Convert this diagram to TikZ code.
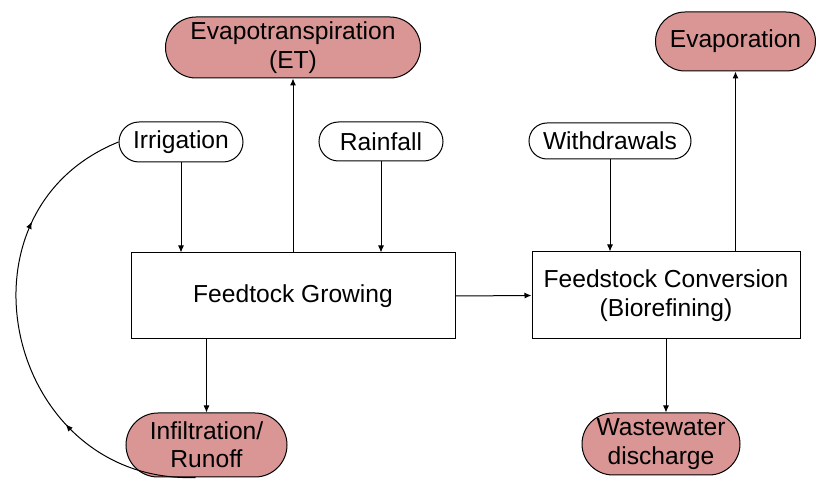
\documentclass[tikz,border=0pt]{standalone}
\usepackage{fontspec}
\setmainfont{Liberation Sans}
\usetikzlibrary{arrows.meta,shapes.misc,decorations.markings}
\definecolor{lossred}{HTML}{D99694}

\begin{document}
\begin{tikzpicture}[x=0.5pt, y=0.5pt,
  every node/.style={font=\fontsize{12.3}{14.2}\selectfont, align=center, inner sep=0pt},
  source/.style={draw, rounded rectangle, fill=white, line width=0.5pt},
  loss/.style={draw, rounded rectangle, fill=lossred, line width=0.5pt},
  stage/.style={draw, rectangle, line width=0.5pt},
  arrow/.style={-{Latex[length=3.5pt,width=3pt]}, line width=0.5pt}
]
\useasboundingbox (0,0) rectangle (816,-481);

% Water inputs
\node[source, minimum width=62pt, minimum height=20pt] (irr) at (181,-142) {Irrigation};
\node[source, minimum width=62pt, minimum height=19.5pt] (rain) at (381,-141.5) {Rainfall};
\node[source, minimum width=81pt, minimum height=18pt] (wd) at (610,-141) {Withdrawals};

% Process stages
\node[stage, minimum width=162pt, minimum height=43pt] (grow) at (293,-296) {Feedtock Growing};
\node[stage, minimum width=134pt, minimum height=43.5pt] (conv) at (666,-295.5)
  {Feedstock Conversion\\(Biorefining)};

% Water losses
\node[loss, minimum width=127.5pt, minimum height=30.5pt] (et) at (293,-47.5)
  {Evapotranspiration\\(ET)};
\node[loss, minimum width=80pt, minimum height=29.5pt] (evap) at (735.5,-41.5) {Evaporation};
\node[loss, minimum width=80.5pt, minimum height=32pt] (inf) at (206.5,-445)
  {Infiltration/\\Runoff};
\node[loss, minimum width=79pt, minimum height=31pt] (ww) at (661,-444)
  {Wastewater\\discharge};

% Flows
\draw[arrow] (irr.south) -- (irr.south |- grow.north);
\draw[arrow] (rain.south) -- (rain.south |- grow.north);
\draw[arrow] (grow.north) -- (et.south);
\draw[arrow] (grow.east) -- (conv.west);
\draw[arrow] (wd.south) -- (wd.south |- conv.north);
\draw[arrow] (evap.south |- conv.north) -- (evap.south);
\draw[arrow] (conv.south) -- (conv.south |- ww.north);
\draw[arrow] (inf.north |- grow.south) -- (inf.north);

% Return loop
\draw[line width=0.5pt, postaction={decorate}, decoration={markings,
    mark=at position 0.3 with {\arrow{Latex[length=3.5pt,width=3pt]}},
    mark=at position 0.75 with {\arrow{Latex[length=3.5pt,width=3pt]}}}]
  ([xshift=-5.5pt]inf.south) to[out=182, in=202, looseness=1.4] (irr.west);

\end{tikzpicture}
\end{document}
